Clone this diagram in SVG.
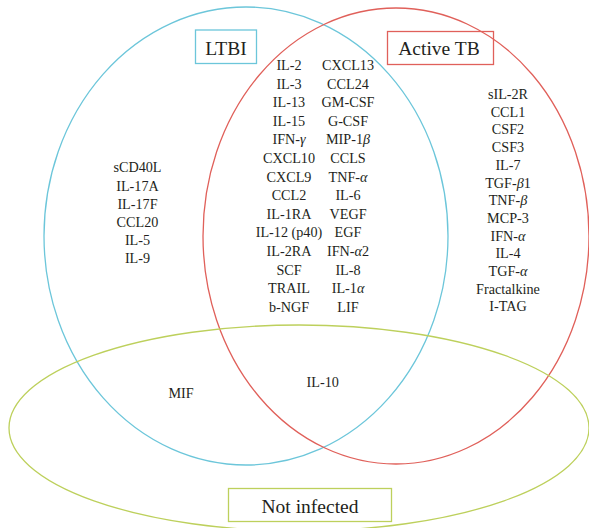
<svg xmlns="http://www.w3.org/2000/svg" width="589" height="528" viewBox="0 0 589 528">
<style>
.e{fill:none;stroke-width:1.3}
text{font-family:'Liberation Serif',Tinos,'Times New Roman',serif;fill:#231f20;text-anchor:middle}
.t{font-size:14.2px}
.h{font-size:19.5px}
.g{font-style:italic}
</style>
<rect width="589" height="528" fill="#fff"/>
<g id="sets">
<ellipse id="ltbi-set" class="e" cx="246" cy="236" rx="202" ry="229" stroke="#6cc6da"/>
<ellipse id="active-set" class="e" cx="396" cy="236" rx="193" ry="228" stroke="#e0605a"/>
<ellipse id="notinf-set" class="e" cx="299" cy="428" rx="290" ry="103" stroke="#bdd05c"/>
</g>
<g id="ltbi-label">
<rect x="195.5" y="30" width="61" height="33.5" fill="none" stroke="#6cc6da" stroke-width="1.3"/>
<text class="h" x="226" y="55">LTBI</text>
</g>
<g id="active-label">
<rect x="387.5" y="31.5" width="106" height="33" fill="none" stroke="#e0605a" stroke-width="1.3"/>
<text class="h" x="439" y="55">Active TB</text>
</g>
<g id="notinf-label">
<rect x="228.5" y="488.5" width="163" height="33" fill="none" stroke="#bdd05c" stroke-width="1.3"/>
<text class="h" x="310" y="512.5">Not infected</text>
</g>
<g id="ltbi-only">
<text class="t" x="137.5" y="172.3">sCD40L</text>
<text class="t" x="137.5" y="190.5">IL-17A</text>
<text class="t" x="137.5" y="208.7">IL-17F</text>
<text class="t" x="137.5" y="226.9">CCL20</text>
<text class="t" x="137.5" y="245.1">IL-5</text>
<text class="t" x="137.5" y="263.3">IL-9</text>
</g>
<g id="ltbi-active-1">
<text class="t" x="289" y="70">IL-2</text>
<text class="t" x="289" y="88.6">IL-3</text>
<text class="t" x="289" y="107.2">IL-13</text>
<text class="t" x="289" y="125.8">IL-15</text>
<text class="t" x="289" y="144.4">IFN-<tspan class="g">γ</tspan></text>
<text class="t" x="289" y="163">CXCL10</text>
<text class="t" x="289" y="181.6">CXCL9</text>
<text class="t" x="289" y="200.2">CCL2</text>
<text class="t" x="289" y="218.8">IL-1RA</text>
<text class="t" x="289" y="237.4">IL-12 (p40)</text>
<text class="t" x="289" y="256">IL-2RA</text>
<text class="t" x="289" y="274.6">SCF</text>
<text class="t" x="289" y="293.2">TRAIL</text>
<text class="t" x="289" y="311.8">b-NGF</text>
</g>
<g id="ltbi-active-2">
<text class="t" x="348" y="70">CXCL13</text>
<text class="t" x="348" y="88.6">CCL24</text>
<text class="t" x="348" y="107.2">GM-CSF</text>
<text class="t" x="348" y="125.8">G-CSF</text>
<text class="t" x="348" y="144.4">MIP-1<tspan class="g">β</tspan></text>
<text class="t" x="348" y="163">CCLS</text>
<text class="t" x="348" y="181.6">TNF-<tspan class="g">α</tspan></text>
<text class="t" x="348" y="200.2">IL-6</text>
<text class="t" x="348" y="218.8">VEGF</text>
<text class="t" x="348" y="237.4">EGF</text>
<text class="t" x="348" y="256">IFN-<tspan class="g">α</tspan>2</text>
<text class="t" x="348" y="274.6">IL-8</text>
<text class="t" x="348" y="293.2">IL-1<tspan class="g">α</tspan></text>
<text class="t" x="348" y="311.8">LIF</text>
</g>
<g id="active-only">
<text class="t" x="508" y="99">sIL-2R</text>
<text class="t" x="508" y="116.7">CCL1</text>
<text class="t" x="508" y="134.4">CSF2</text>
<text class="t" x="508" y="152.1">CSF3</text>
<text class="t" x="508" y="169.8">IL-7</text>
<text class="t" x="508" y="187.5">TGF-<tspan class="g">β</tspan>1</text>
<text class="t" x="508" y="205.2">TNF-<tspan class="g">β</tspan></text>
<text class="t" x="508" y="222.9">MCP-3</text>
<text class="t" x="508" y="240.6">IFN-<tspan class="g">α</tspan></text>
<text class="t" x="508" y="258.3">IL-4</text>
<text class="t" x="508" y="276">TGF-<tspan class="g">α</tspan></text>
<text class="t" x="508" y="293.7">Fractalkine</text>
<text class="t" x="508" y="311.4">I-TAG</text>
</g>
<g id="ltbi-notinf">
<text class="t" x="181" y="398.3">MIF</text>
</g>
<g id="all-three">
<text class="t" x="322.7" y="386.7">IL-10</text>
</g>
</svg>
